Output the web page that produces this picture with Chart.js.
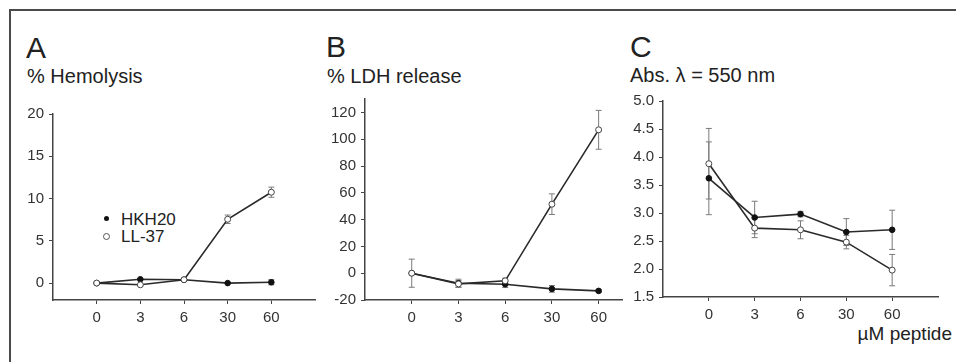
<!DOCTYPE html>
<html>
<head>
<meta charset="utf-8">
<script src="https://cdn.jsdelivr.net/npm/chart.js@4.4.1/dist/chart.umd.min.js"></script>
<style>
  body { margin: 0; background: #fff; width: 956px; height: 362px; position: relative; overflow: hidden;
         font-family: "Liberation Sans", Arial, sans-serif; color: #222; }
  .frame { position: absolute; left: 9px; top: 9px; width: 960px; height: 360px;
           border-top: 2px solid #4a4a4a; border-left: 2px solid #4a4a4a; }
  canvas { position: absolute; }
  .txt { position: absolute; white-space: nowrap; line-height: 1; }
  .big { font-size: 30px; }
  .ylab { font-size: 20px; }
  .leg { font-size: 17px; }
  .dot { position: absolute; width: 5px; height: 5px; border-radius: 50%; }
</style>
</head>
<body>
<div class="frame"></div>

<div class="txt big" style="left:26px;top:33px">A</div>
<div class="txt ylab" style="left:27px;top:66px">% Hemolysis</div>
<div class="txt big" style="left:326px;top:32px">B</div>
<div class="txt ylab" style="left:327px;top:66px">% LDH release</div>
<div class="txt big" style="left:630px;top:32px">C</div>
<div class="txt ylab" style="left:630px;top:65px">Abs. λ = 550 nm</div>

<div class="dot" style="left:104px;top:216px;background:#111"></div>
<div class="txt leg" style="left:121px;top:211px">HKH20</div>
<div class="dot" style="left:103px;top:233px;border:1px solid #555;background:#fff"></div>
<div class="txt leg" style="left:121px;top:228px">LL-37</div>

<div class="txt" style="right:4px;top:324px;font-size:19px">µM peptide</div>

<canvas id="ca" width="310" height="230" style="left:10px;top:100px"></canvas>
<canvas id="cb" width="310" height="245" style="left:320px;top:85px"></canvas>
<canvas id="cc" width="325" height="243" style="left:625px;top:87px"></canvas>

<script>
// peptide concentrations (µM) shown as evenly spaced categories
const doses = ['0', '3', '6', '30', '60']

// A - % Hemolysis
const hemoTicks = [0, 5, 10, 15, 20]
const hemoHKH20 = [0, 0.45, 0.4, 0, 0.1]
const hemoHKH20Err = [0, 0, 0, 0, 0.3]
const hemoLL37 = [0, -0.2, 0.4, 7.55, 10.75]
const hemoLL37Err = [0, 0, 0, 0.5, 0.6]

// B - % LDH release
const ldhTicks = [-20, 0, 20, 40, 60, 80, 100, 120]
const ldhHKH20 = [0, -7.5, -8.2, -11.7, -13.2]
const ldhHKH20Err = [0, 3, 2.5, 2.5, 1]
const ldhLL37 = [0, -8, -5.7, 51.5, 107]
const ldhLL37Err = [10.5, 2.5, 2, 7.7, 14.5]

// C - absorbance at 550 nm
const absTicks = [1.5, 2.0, 2.5, 3.0, 3.5, 4.0, 4.5, 5.0]
const absHKH20 = [3.62, 2.92, 2.98, 2.66, 2.70]
const absHKH20Err = [0.65, 0.29, 0.05, 0.24, 0.35]
const absLL37 = [3.88, 2.73, 2.70, 2.48, 1.98]
const absLL37Err = [0.63, 0.17, 0.16, 0.12, 0.28]

Chart.defaults.font.family = '"Liberation Sans", Arial, sans-serif'
Chart.defaults.color = '#333'
const tickFont = { size: 15 }

// error bars drawn through the chart's own scales
const errorBars = {
  id: 'errorBars',
  beforeDatasetsDraw(chart) {
    const ctx = chart.ctx
    const xs = chart.scales.x, ys = chart.scales.y
    ctx.save()
    ctx.strokeStyle = '#7a7a7a'
    ctx.lineWidth = 1
    chart.data.datasets.forEach(ds => {
      ds.data.forEach((p, i) => {
        const e = ds.errors[i]
        if (!e) return
        const x = xs.getPixelForValue(p.x)
        const y1 = ys.getPixelForValue(p.y + e)
        const y2 = ys.getPixelForValue(p.y - e)
        ctx.beginPath()
        ctx.moveTo(x, y1); ctx.lineTo(x, y2)
        ctx.moveTo(x - 3, y1); ctx.lineTo(x + 3, y1)
        ctx.moveTo(x - 3, y2); ctx.lineTo(x + 3, y2)
        ctx.stroke()
      })
    })
    ctx.restore()
  }
}

function toPoints(vals) {
  return vals.map((v, i) => ({x: i, y: v}))
}

function panel(id, hkh, hkhErr, ll, llErr, yMin, yMax, yTicks, xMax, fmt, box) {
  new Chart(document.getElementById(id), {
    type: 'line',
    data: {
      datasets: [{
        label: 'LL-37',
        data: toPoints(ll),
        errors: llErr,
        borderColor: '#2a2a2a',
        borderWidth: 1.6,
        pointRadius: 3,
        pointBackgroundColor: '#fff',
        pointBorderColor: '#444',
        pointBorderWidth: 1
      }, {
        label: 'HKH20',
        data: toPoints(hkh),
        errors: hkhErr,
        borderColor: '#2a2a2a',
        borderWidth: 1.6,
        pointRadius: 2.8,
        pointBackgroundColor: '#111',
        pointBorderColor: '#111',
        pointBorderWidth: 1
      }]
    },
    options: {
      responsive: false,
      animation: false,
      layout: { padding: { top: box.top, right: box.right, left: 0, bottom: 0 } },
      plugins: { legend: { display: false }, tooltip: { enabled: false } },
      scales: {
        x: {
          type: 'linear',
          min: -1,
          max: xMax,
          afterBuildTicks: s => { s.ticks = doses.map((d, i) => ({value: i})) },
          afterFit: s => { s.height = box.xHeight },
          ticks: { callback: v => doses[v], padding: 5, maxRotation: 0, font: tickFont },
          grid: { drawOnChartArea: false, tickLength: 4, color: '#444' },
          border: { color: '#444', width: 1.5 }
        },
        y: {
          min: yMin,
          max: yMax,
          afterBuildTicks: s => { s.ticks = yTicks.map(v => ({value: v})) },
          afterFit: s => { s.width = box.yWidth },
          ticks: { callback: fmt, padding: 5, font: tickFont },
          grid: { drawOnChartArea: false, tickLength: 4, color: '#444' },
          border: { color: '#444', width: 1.5 }
        }
      }
    },
    plugins: [errorBars]
  })
}

panel('ca', hemoHKH20, hemoHKH20Err, hemoLL37, hemoLL37Err, -2, 20, hemoTicks, 5,
  v => String(v), {yWidth: 43, top: 12, xHeight: 30, right: 5})
panel('cb', ldhHKH20, ldhHKH20Err, ldhLL37, ldhLL37Err, -20, 130, ldhTicks, 4.5,
  v => String(v), {yWidth: 45, top: 12, xHeight: 30, right: 8})
panel('cc', absHKH20, absHKH20Err, absLL37, absLL37Err, 1.5, 5, absTicks, 5,
  v => v.toFixed(1), {yWidth: 38, top: 12, xHeight: 33, right: 12})
</script>
</body>
</html>
